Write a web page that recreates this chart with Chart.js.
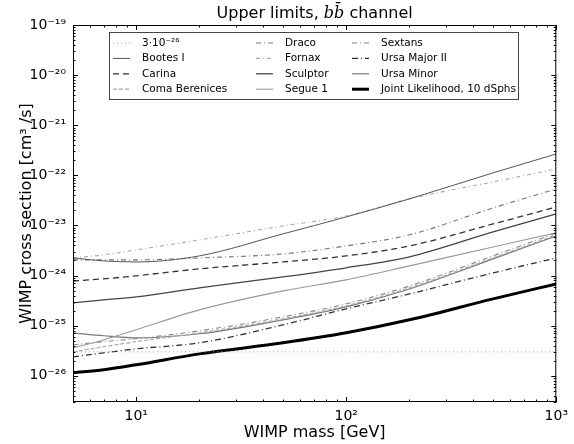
<!DOCTYPE html>
<html>
<head>
<meta charset="utf-8">
<script src="https://cdn.jsdelivr.net/npm/chart.js@4.4.0/dist/chart.umd.min.js"></script>
<style>
  body { margin: 0; background: #fff; }
  #caja { width: 574px; height: 444px; position: relative; }
</style>
</head>
<body>
<div id="caja"><canvas id="graficaLimites"></canvas></div>
<script>
// masas WIMP (GeV) y límites superiores <σv> (cm^3/s)
const masas = [5, 7, 10, 20, 50, 100, 200, 500, 1000];
const bootes = [2.25e-24, 1.96e-24, 1.87e-24, 2.47e-24, 6.8e-24, 1.48e-23, 3.39e-23, 1.12e-22, 2.67e-22];
const carina = [7.8e-25, 8.6e-25, 9.9e-25, 1.36e-24, 1.87e-24, 2.47e-24, 3.91e-24, 1.07e-23, 2.34e-23];
const coma = [3.0e-26, 3.8e-26, 4.8e-26, 7.2e-26, 1.37e-25, 2.49e-25, 5.7e-25, 2.25e-24, 6.5e-24];
const draco = [2.06e-24, 2.06e-24, 2.06e-24, 2.25e-24, 2.71e-24, 3.91e-24, 6.5e-24, 2.24e-23, 5.36e-23];
const fornax = [2.25e-24, 2.59e-24, 3.26e-24, 5.15e-24, 9.8e-24, 1.55e-23, 3.39e-23, 7.4e-23, 1.34e-22];
const sculptor = [2.86e-25, 3.27e-25, 3.76e-25, 5.7e-25, 9.4e-25, 1.43e-24, 2.36e-24, 7.44e-24, 1.70e-23];
const segue = [3.61e-26, 5.2e-26, 8.3e-26, 2.07e-25, 4.95e-25, 8.2e-25, 1.56e-24, 3.73e-24, 7.1e-24];
const sextans = [4.15e-26, 4.8e-26, 5.5e-26, 7.9e-26, 1.5e-25, 2.73e-25, 6.2e-25, 2.47e-24, 7.1e-24];
const ursaMajor2 = [2.39e-26, 2.87e-26, 3.45e-26, 4.55e-26, 1.04e-25, 2.17e-25, 4.3e-25, 1.13e-24, 2.25e-24];
const ursaMinor = [7.2e-26, 6.3e-26, 5.7e-26, 6.9e-26, 1.31e-25, 2.38e-25, 5.4e-25, 2.15e-24, 6.2e-24];
const conjunta = [1.15e-26, 1.32e-26, 1.66e-26, 2.74e-26, 4.55e-26, 7.2e-26, 1.31e-25, 3.43e-25, 6.8e-25];

// sección eficaz térmica de referencia
const masasTermica = [5, 1000];
const termica = [3e-26, 3e-26];

// marcas de los ejes (exponentes de 10)
const xExponentes = [1, 2, 3];
const yExponentes = [-26, -25, -24, -23, -22, -21, -20, -19];

const SUP = { "-": "\u207B", "0": "\u2070", "1": "\u00B9", "2": "\u00B2", "3": "\u00B3",
  "4": "\u2074", "5": "\u2075", "6": "\u2076", "7": "\u2077", "8": "\u2078", "9": "\u2079" };
const potencia = (e) => "10" + String(e).split("").map((c) => SUP[c]).join("");

function serie(label, xs, ys, color, dash, ancho) {
  return {
    label: label,
    data: xs.map((m, i) => ({ x: m, y: ys[i] })),
    borderColor: color,
    borderDash: dash,
    borderWidth: ancho,
    pointRadius: 0,
    fill: false,
    cubicInterpolationMode: "monotone",
  };
}

const datasets = [
  serie("3\u00B710\u207B\u00B2\u2076", masasTermica, termica, "#9a9a9a", [1, 3], 1),
  serie("Bootes I", masas, bootes, "#555", [], 1),
  serie("Carina", masas, carina, "#333", [6, 4], 1.3),
  serie("Coma Berenices", masas, coma, "#aaa", [4, 2], 1.2),
  serie("Draco", masas, draco, "#777", [5, 3, 1, 3], 1.1),
  serie("Fornax", masas, fornax, "#aaa", [4, 3, 1, 3], 1.1),
  serie("Sculptor", masas, sculptor, "#444", [], 1.3),
  serie("Segue 1", masas, segue, "#999", [], 1.1),
  serie("Sextans", masas, sextans, "#888", [5, 3, 1, 3], 1.1),
  serie("Ursa Major II", masas, ursaMajor2, "#333", [6, 3, 1, 3], 1.3),
  serie("Ursa Minor", masas, ursaMinor, "#777", [], 1.2),
  serie("Joint Likelihood, 10 dSphs", masas, conjunta, "#000", [], 3),
];

// marco con marcas hacia dentro, en los cuatro lados
const marco = {
  id: "marco",
  afterDatasetsDraw(chart) {
    const { ctx, chartArea: a, scales: { x, y } } = chart;
    ctx.save();
    ctx.strokeStyle = "#000";
    ctx.lineWidth = 1;
    ctx.setLineDash([]);
    ctx.strokeRect(a.left + 0.5, a.top + 0.5, a.right - a.left - 1, a.bottom - a.top - 1);
    ctx.beginPath();
    for (let d = 0; d <= 3; d++) {
      for (let k = 1; k <= 9; k++) {
        const v = k * Math.pow(10, d);
        if (v < x.min * 0.999 || v > x.max * 1.001) continue;
        const px = Math.round(x.getPixelForValue(v)) + 0.5;
        const l = k === 1 ? 5 : 2.5;
        ctx.moveTo(px, a.bottom); ctx.lineTo(px, a.bottom - l);
        ctx.moveTo(px, a.top); ctx.lineTo(px, a.top + l);
      }
    }
    for (let e = -27; e <= -19; e++) {
      for (let k = 1; k <= 9; k++) {
        const v = k * Math.pow(10, e);
        if (v < y.min * 0.999 || v > y.max * 1.001) continue;
        const py = Math.round(y.getPixelForValue(v)) + 0.5;
        const l = k === 1 ? 5 : 2.5;
        ctx.moveTo(a.left, py); ctx.lineTo(a.left + l, py);
        ctx.moveTo(a.right, py); ctx.lineTo(a.right - l, py);
      }
    }
    ctx.stroke();
    ctx.restore();
  },
};

// leyenda dentro del área, tres columnas
const leyenda = {
  id: "leyenda",
  afterDraw(chart) {
    const ctx = chart.ctx;
    const x0 = 109, y0 = 32, w = 409, h = 67;
    ctx.save();
    ctx.fillStyle = "#fff";
    ctx.fillRect(x0, y0, w, h);
    ctx.strokeStyle = "#444";
    ctx.lineWidth = 1;
    ctx.strokeRect(x0 + 0.5, y0 + 0.5, w, h);
    const cols = [113, 256, 352];
    ctx.font = '10.5px "DejaVu Sans"';
    ctx.textBaseline = "middle";
    chart.data.datasets.forEach((ds, i) => {
      const lx = cols[Math.floor(i / 4)];
      const ly = y0 + 11 + (i % 4) * 15.4;
      ctx.beginPath();
      ctx.setLineDash(ds.borderDash);
      ctx.strokeStyle = ds.borderColor;
      ctx.lineWidth = ds.borderWidth;
      ctx.moveTo(lx, ly);
      ctx.lineTo(lx + 17, ly);
      ctx.stroke();
      ctx.setLineDash([]);
      ctx.fillStyle = "#000";
      ctx.fillText(ds.label, lx + 29, ly);
    });
    ctx.restore();
  },
};

// título con bb̄ en cursiva
const titulo = {
  id: "titulo",
  afterDraw(chart) {
    const { ctx, chartArea: a } = chart;
    const partes = [
      ["Upper limits, ", '16px "DejaVu Sans"'],
      ["bb\u0304", 'italic 16px "DejaVu Serif"'],
      [" channel", '16px "DejaVu Sans"'],
    ];
    ctx.save();
    ctx.fillStyle = "#000";
    ctx.textBaseline = "alphabetic";
    let total = 0;
    partes.forEach(([t, f]) => { ctx.font = f; total += ctx.measureText(t).width; });
    let x = (a.left + a.right) / 2 - total / 2;
    partes.forEach(([t, f]) => { ctx.font = f; ctx.fillText(t, x, 18); x += ctx.measureText(t).width; });
    ctx.restore();
  },
};

function cargarLimites() {
  const ctx = document.getElementById("graficaLimites").getContext("2d");
  new Chart(ctx, {
    type: "line",
    data: { datasets: datasets },
    plugins: [marco, leyenda, titulo],
    options: {
      responsive: true,
      maintainAspectRatio: false,
      animation: false,
      layout: { padding: { top: 25, right: 15, left: 0, bottom: 0 } },
      plugins: { legend: { display: false }, tooltip: { enabled: false } },
      scales: {
        x: {
          type: "logarithmic",
          min: 5,
          max: 1000,
          grid: { display: false, drawTicks: false },
          border: { display: false },
          afterBuildTicks: (s) => { s.ticks = xExponentes.map((e) => ({ value: Math.pow(10, e) })); },
          ticks: {
            autoSkip: false,
            maxRotation: 0,
            padding: 6,
            color: "#000",
            font: { family: "DejaVu Sans", size: 14 },
            callback: (v) => potencia(Math.round(Math.log10(v))),
          },
          title: {
            display: true,
            text: "WIMP mass [GeV]",
            color: "#000",
            font: { family: "DejaVu Sans", size: 16 },
            padding: { top: 0, bottom: 2 },
          },
          afterFit: (s) => { s.height = 42; },
        },
        y: {
          type: "logarithmic",
          min: 3e-27,
          max: 1e-19,
          grid: { display: false, drawTicks: false },
          border: { display: false },
          afterBuildTicks: (s) => { s.ticks = yExponentes.map((e) => ({ value: Math.pow(10, e) })); },
          ticks: {
            autoSkip: false,
            padding: 7,
            color: "#000",
            font: { family: "DejaVu Sans", size: 14 },
            callback: (v) => potencia(Math.round(Math.log10(v))),
          },
          title: {
            display: true,
            text: "WIMP cross section [cm\u00B3 /s]",
            color: "#000",
            font: { family: "DejaVu Sans", size: 16 },
            padding: { top: 17, bottom: 0 },
          },
          afterFit: (s) => { s.width = 73; },
        },
      },
    },
  });
}

cargarLimites();
</script>
</body>
</html>
